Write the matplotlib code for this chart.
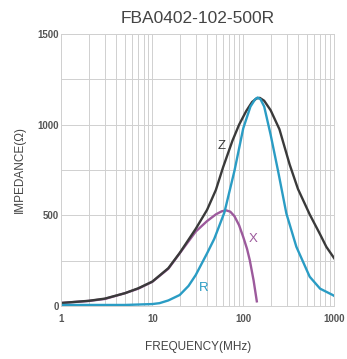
import numpy as np
import matplotlib
matplotlib.use('Agg')
import matplotlib.pyplot as plt
from matplotlib.ticker import FixedLocator, NullFormatter

# Impedance curves (MHz, ohm)
z_freq = [1, 2, 3, 5, 7, 10, 15, 20, 30, 40, 50, 60, 76, 90, 108, 125, 140, 152, 170, 200,
          250, 324, 400, 538, 700, 820, 1000]
z_val = [16, 28, 40, 70, 97, 134, 208, 292, 425, 530, 640, 765, 911, 1000, 1076, 1125, 1145,
         1148, 1132, 1080, 975, 780, 645, 505, 395, 326, 263]

x_freq = [1, 2, 3, 5, 7, 10, 15, 20, 30, 40, 50, 58, 65, 72, 80, 90, 100, 110, 118, 130, 141]
x_val = [16, 27, 38, 70, 95, 133, 205, 290, 410, 468, 505, 522, 527, 520, 495, 445, 380, 315,
         252, 140, 25]

r_freq = [1, 5, 10, 12, 15, 20, 25, 30, 40, 48, 62, 80, 100, 120, 135, 144, 155, 170, 200, 241,
          298, 384, 538, 700, 963, 1000]
r_val = [5, 5, 10, 15, 30, 60, 110, 170, 290, 370, 515, 745, 980, 1100, 1140, 1150, 1140, 1100,
         945, 747, 510, 326, 161, 95, 60, 55]

y_ticks = [0, 500, 1000, 1500]
x_ticks = [1, 10, 100, 1000]

plt.rcParams['font.family'] = ['Liberation Sans', 'DejaVu Sans']

fig = plt.figure(figsize=(3.47, 3.59), dpi=100)
ax = fig.add_axes([0.177, 0.148, 0.786, 0.757])

z_color = '#3a3a3a'
x_color = '#9c5a9c'
r_color = '#2a9cc4'

ax.plot(x_freq, x_val, color=x_color, lw=1.7)
ax.plot(z_freq, z_val, color=z_color, lw=1.7)
ax.plot(r_freq, r_val, color=r_color, lw=1.7)

ax.set_xscale('log')
ax.set_xlim(1, 1000)
ax.set_ylim(0, 1500)

ax.xaxis.set_major_locator(FixedLocator(x_ticks))
ax.xaxis.set_minor_locator(FixedLocator(
    [m * 10 ** d for d in range(0, 3) for m in range(2, 10)]))
ax.xaxis.set_minor_formatter(NullFormatter())
ax.set_xticklabels([str(t) for t in x_ticks])
ax.yaxis.set_major_locator(FixedLocator(y_ticks))
ax.yaxis.set_minor_locator(FixedLocator([250, 750, 1250]))

ax.grid(True, which='both', color='#d0d0d0', lw=0.7)
ax.set_axisbelow(True)
for s in ax.spines.values():
    s.set_color('#d0d0d0')
    s.set_linewidth(0.7)
ax.tick_params(which='both', length=0, colors='#555555', labelsize=7)
ax.tick_params(axis='x', pad=6)
ax.tick_params(axis='y', pad=2)
for lab in ax.get_xticklabels() + ax.get_yticklabels():
    lab.set_fontweight('bold')

ax.set_xlabel('FREQUENCY(MHz)', fontsize=8.5, color='#444444', labelpad=12)
ax.set_ylabel('IMPEDANCE(Ω)', fontsize=8.5, color='#444444', labelpad=8)
ax.set_title('FBA0402-102-500R', fontsize=12.5, color='#444444', pad=8)

ax.text(58, 880, 'Z', color=z_color, fontsize=9.5, ha='center', va='center')
ax.text(130, 368, 'X', color=x_color, fontsize=9.5, ha='center', va='center')
ax.text(37, 100, 'R', color=r_color, fontsize=9.5, ha='center', va='center')

fig.savefig('out.png', dpi=100)
